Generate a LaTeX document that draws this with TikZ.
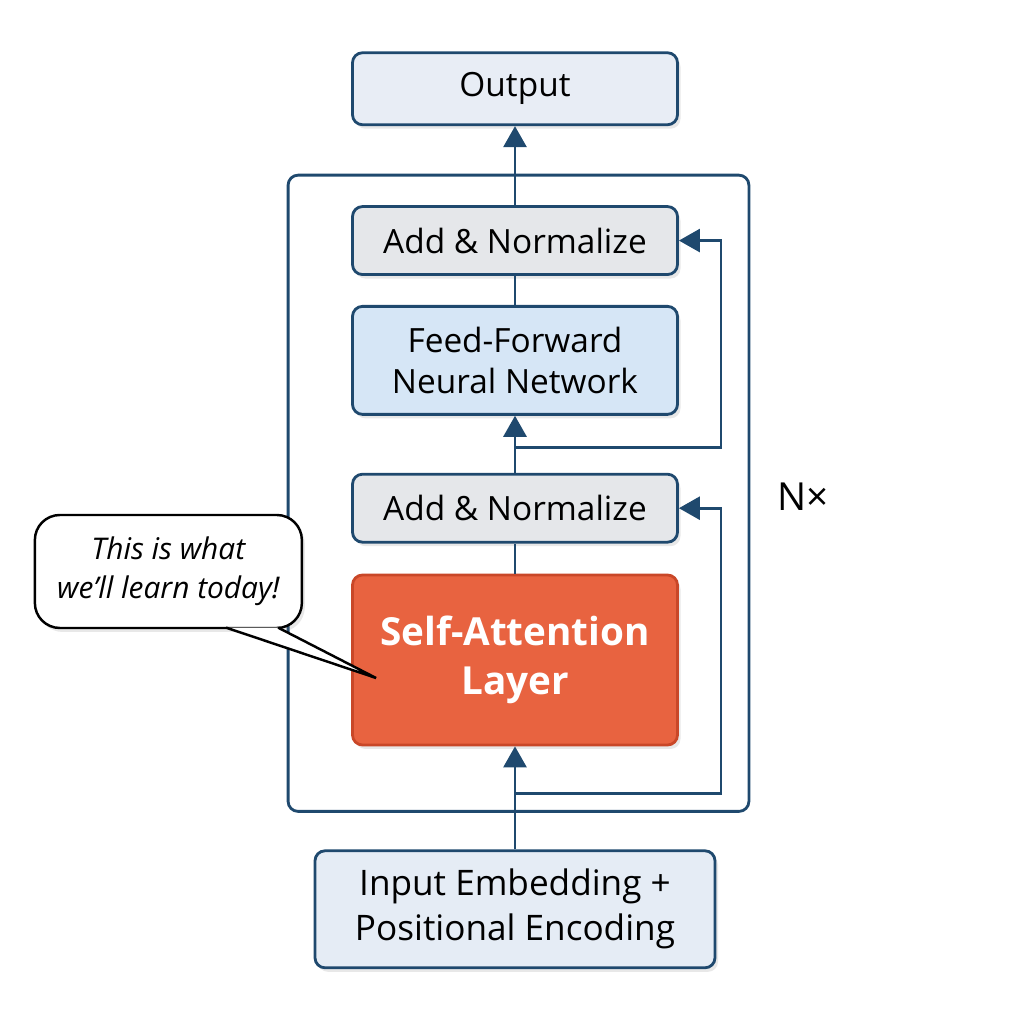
\documentclass[tikz,border=0pt]{standalone}
\usepackage{fontspec}
\setmainfont{Open Sans}
\usetikzlibrary{
  arrows.meta,
  positioning,
  calc,
  shadows
}
\definecolor{FrameBlue}{RGB}{31,73,110}
\definecolor{OutTint}{RGB}{232,237,245}
\definecolor{NormTint}{RGB}{229,231,234}
\definecolor{FfnTint}{RGB}{214,230,246}
\definecolor{AttnOrange}{RGB}{232,99,64}
\definecolor{AttnEdge}{RGB}{201,71,40}
\definecolor{InTint}{RGB}{229,236,245}
\tikzset{
  lbox/.style={
    draw=FrameBlue,
    line width=1.6pt,
    rounded corners=2mm,
    minimum width=65mm,
    align=center,
    inner sep=0pt,
    font=\fontsize{19}{23}\selectfont,
    drop shadow={opacity=0.18, shadow xshift=0.6mm, shadow yshift=-0.8mm}
  },
  outbox/.style={lbox,fill=OutTint,minimum height=14.4mm},
  normbox/.style={lbox,fill=NormTint,minimum height=13.6mm},
  ffnbox/.style={lbox,fill=FfnTint,minimum height=21.6mm},
  attnbox/.style={lbox,draw=AttnEdge,fill=AttnOrange,text=white,minimum height=34mm,
    font=\fontsize{22}{28}\selectfont\bfseries},
  inbox/.style={lbox,fill=InTint,minimum width=80mm,minimum height=23.4mm,
    font=\fontsize{20}{25.6}\selectfont},
  arrow/.style={-{Triangle[length=4.2mm,width=4.6mm]},line width=1.6pt,draw=FrameBlue},
  link/.style={line width=1.6pt,draw=FrameBlue},
  frame/.style={line width=1.6pt,draw=FrameBlue,rounded corners=2mm},
  bubble/.style={draw=black,fill=white,line width=1.4pt,rounded corners=5mm,
    minimum width=53.4mm,minimum height=22.6mm,align=center,inner sep=0pt,
    font=\fontsize{17}{22}\selectfont\itshape,
    drop shadow={opacity=0.18, shadow xshift=0.6mm, shadow yshift=-0.8mm}},
  bubbletail/.style={draw=black,fill=white,line width=1.4pt,line join=miter}
}

\begin{document}
\begin{tikzpicture}[node distance=10mm and 9mm]
  \useasboundingbox (0,0) rectangle (20.48,20.48);

  \node[attnbox] (attn) at (10.3,7.28) {Self-Attention\\Layer};
  \node[normbox, above=6mm of attn] (an2) {Add \& Normalize};
  \node[ffnbox, above=11.4mm of an2] (ffn) {Feed-Forward\\Neural Network};
  \node[normbox, above=5.8mm of ffn] (an1) {Add \& Normalize};
  \node[outbox, above=15.8mm of an1] (out) {Output};
  \node[inbox, below=20.6mm of attn] (in) {Input Embedding +\\Positional Encoding};

  % the N times repeated block
  \draw[frame] ($(attn.south west)+(-12.6mm,-13mm)$) rectangle ($(an1.north east)+(14mm,6mm)$);
  \node[right=18.4mm of an2, yshift=2.2mm, font=\fontsize{22}{26}\selectfont] (nx) {N×};

  \draw[arrow] (in) -- (attn);
  \draw[link] (attn) -- (an2);
  \draw[arrow] (an2) -- (ffn);
  \draw[link] (ffn) -- (an1);
  \draw[arrow] (an1) -- (out);

  % residual connections
  \coordinate[below=9.4mm of attn] (skipb);
  \coordinate[above=5mm of an2] (skipa);
  \draw[arrow] (skipb) -| ([xshift=8.4mm]an2.east) -- (an2.east);
  \draw[arrow] (skipa) -| ([xshift=8.4mm]an1.east) -- (an1.east);

  % speech bubble
  \node[bubble, left=9.6mm of attn, yshift=17.7mm] (note) {This is what\\we’ll learn today!};
  \coordinate (tip) at ($(attn.west)+(5mm,-3.6mm)$);
  \coordinate (taila) at ($(note.south east)+(-15.4mm,0.9pt)$);
  \coordinate (tailb) at ($(note.south east)+(-5mm,0.9pt)$);
  \draw[bubbletail] (taila) -- (tip) -- (tailb);
\end{tikzpicture}
\end{document}
